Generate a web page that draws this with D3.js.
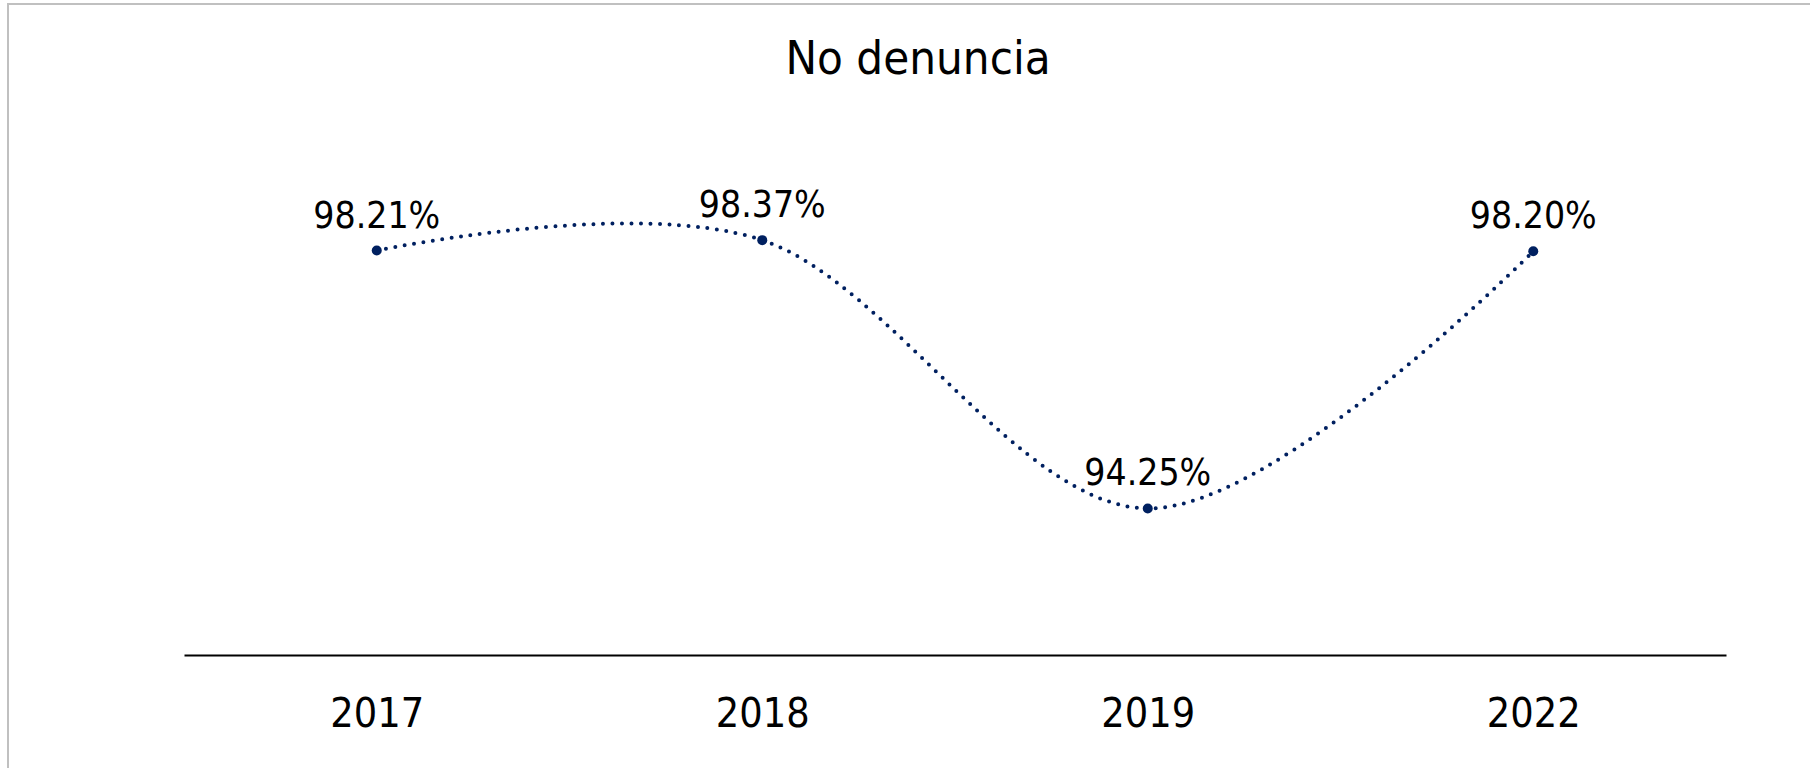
<!DOCTYPE html>
<html>
<head>
<meta charset="utf-8">
<script src="https://cdn.jsdelivr.net/npm/d3@7"></script>
<style>
  body { margin: 0; background: #fff; }
  svg { display: block; font-family: "DejaVu Sans Condensed", "DejaVu Sans", sans-serif; }
</style>
</head>
<body>
<div id="container"></div>
<script>
const title = "No denuncia";
const years = ["2017", "2018", "2019", "2022"];
const values = [98.21, 98.37, 94.25, 98.20];
const valueLabels = ["98.21%", "98.37%", "94.25%", "98.20%"];

function draw() {
    const width = 1810;
    const height = 768;

    const plotLeft = 184;
    const plotRight = 1726;
    const plotTop = 134;
    const plotBottom = 655;
    const lineColor = "#002060";

    const svg = d3.select('#container')
        .append('svg')
        .attr('width', width)
        .attr('height', height)
        .attr('viewBox', `0 0 ${width} ${height}`);

    // chart frame (only top/left edges visible in the crop)
    svg.append("rect")
        .attr("x", 8)
        .attr("y", 4)
        .attr("width", 2000)
        .attr("height", 1000)
        .attr("fill", "none")
        .attr("stroke", "#c0c0c0")
        .attr("stroke-width", 2);

    svg.append("text")
        .text(title)
        .attr("x", 918)
        .attr("y", 74)
        .attr("text-anchor", "middle")
        .style("font-size", "47px")
        .style("fill", "#000");

    const x = d3.scalePoint()
        .domain(years)
        .range([plotLeft, plotRight])
        .padding(0.5);

    const y = d3.scaleLinear()
        .domain([92, 100])
        .range([plotBottom, plotTop]);

    const xAxis = svg.append("g")
        .attr("transform", `translate(0, ${plotBottom})`)
        .call(d3.axisBottom(x).tickSize(0).tickSizeOuter(0));

    xAxis.select(".domain")
        .attr("stroke", "#000")
        .attr("stroke-width", 2);

    xAxis.selectAll("text")
        .attr("y", 72)
        .attr("dy", 0)
        .attr("fill", "#000")
        .style("font-family", "\"DejaVu Sans Condensed\", \"DejaVu Sans\", sans-serif")
        .style("font-size", "41px");

    const line = d3.line()
        .x((d, i) => x(years[i]))
        .y(d => y(d))
        .curve(d3.curveCardinal.tension(0));

    svg.append("path")
        .datum(values)
        .attr("d", line)
        .attr("fill", "none")
        .attr("stroke", lineColor)
        .attr("stroke-width", 4)
        .attr("stroke-linecap", "round")
        .attr("stroke-dasharray", "0 9.5");

    svg.selectAll(".marker")
        .data(values)
        .enter()
        .append("circle")
        .attr("class", "marker")
        .attr("cx", (d, i) => x(years[i]))
        .attr("cy", d => y(d))
        .attr("r", 5)
        .attr("fill", lineColor);

    svg.selectAll(".value-label")
        .data(values)
        .enter()
        .append("text")
        .attr("class", "value-label")
        .text((d, i) => valueLabels[i])
        .attr("x", (d, i) => x(years[i]))
        .attr("y", d => y(d) - 23)
        .attr("text-anchor", "middle")
        .style("font-size", "37px")
        .style("fill", "#000");
}

draw();
</script>
</body>
</html>
